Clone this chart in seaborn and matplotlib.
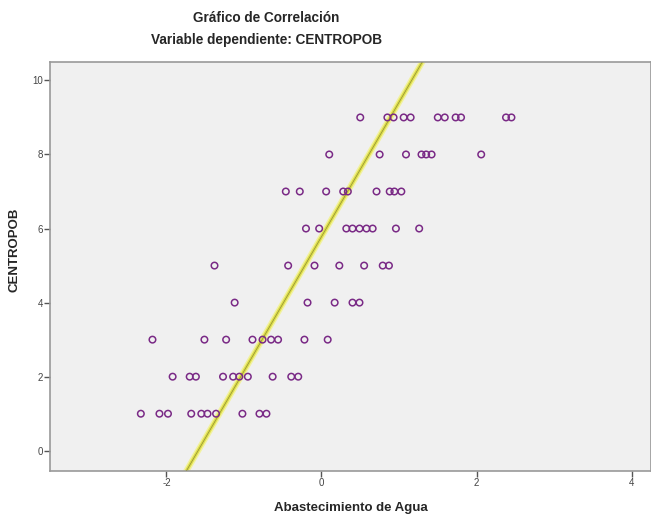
import numpy as np
import pandas as pd
import seaborn as sns
import matplotlib
matplotlib.use("Agg")
import matplotlib.pyplot as plt

# values, one list per CENTROPOB level
agua_9 = [0.50, 0.85, 0.93, 1.06, 1.15, 1.50, 1.59, 1.73, 1.80, 2.38, 2.45]
agua_8 = [0.10, 0.75, 1.09, 1.29, 1.35, 1.42, 2.06]
agua_7 = [-0.46, -0.28, 0.06, 0.28, 0.34, 0.71, 0.88, 0.94, 1.03]
agua_6 = [-0.20, -0.03, 0.32, 0.40, 0.49, 0.58, 0.66, 0.96, 1.26]
agua_5 = [-1.38, -0.43, -0.09, 0.23, 0.55, 0.79, 0.87]
agua_4 = [-1.12, -0.18, 0.17, 0.40, 0.49]
agua_3 = [-2.18, -1.51, -1.23, -0.89, -0.76, -0.65, -0.56, -0.22, 0.08]
agua_2 = [-1.92, -1.70, -1.62, -1.27, -1.14, -1.06, -0.95, -0.63, -0.39, -0.30]
agua_1 = [-2.33, -2.09, -1.98, -1.68, -1.55, -1.47, -1.36, -1.02, -0.80, -0.71]

levels = [9, 8, 7, 6, 5, 4, 3, 2, 1]
agua_rows = [agua_9, agua_8, agua_7, agua_6, agua_5, agua_4, agua_3, agua_2, agua_1]

# fit line as shown in the reference
fit_intercept = 5.78
fit_slope = 3.63

x_ticks = [-2, 0, 2, 4]
y_ticks = [0, 2, 4, 6, 8, 10]

rows = []
for lvl, xs in zip(levels, agua_rows):
    for v in xs:
        rows.append({"Abastecimiento de Agua": v, "CENTROPOB": lvl})
df = pd.DataFrame(rows)

sns.set_style("white")
plt.rcParams["font.family"] = ["Liberation Sans", "DejaVu Sans"]
plt.rcParams["axes.unicode_minus"] = False

fig = plt.figure(figsize=(6.51, 5.20), dpi=100)
ax = fig.add_axes([0.077, 0.094, 0.923, 0.787])
ax.set_facecolor("#f0f0f0")

xs_line = np.array([-3.6, 4.3])
line_df = pd.DataFrame({"x": xs_line, "y": fit_intercept + fit_slope * xs_line})
sns.lineplot(data=line_df, x="x", y="y", ax=ax, color="#f2f2a0", linewidth=4.5, zorder=2)
sns.lineplot(data=line_df, x="x", y="y", ax=ax, color="#dede48", linewidth=2.4, zorder=2)
sns.lineplot(data=line_df, x="x", y="y", ax=ax, color="#8c8c3c", linewidth=0.5, zorder=3)

sns.scatterplot(data=df, x="Abastecimiento de Agua", y="CENTROPOB", ax=ax,
                marker="o", s=22, facecolors="none", edgecolor="#7a2a86",
                linewidth=1.1, zorder=4)

ax.set_xlim(-3.5, 4.25)
ax.set_ylim(-0.55, 10.5)
ax.set_xticks(x_ticks)
ax.set_yticks(y_ticks)
ax.tick_params(axis="both", direction="out", length=4, width=1, color="#555555",
               labelsize=7, labelcolor="#444444", pad=1)
ax.tick_params(axis="x", bottom=True)
ax.tick_params(axis="y", left=True)

for side in ["top", "bottom", "left", "right"]:
    ax.spines[side].set_color("#999999")
    ax.spines[side].set_linewidth(1.2)

ax.set_xlabel("Abastecimiento de Agua", fontsize=9.5, fontweight="bold", labelpad=10)
ax.set_ylabel("CENTROPOB", fontsize=9.5, fontweight="bold")
ax.yaxis.set_label_coords(-0.05, 0.54)

fig.text(0.409, 0.965, "Gráfico de Correlación", ha="center", va="center",
         fontsize=9.8, fontweight="bold")
fig.text(0.409, 0.923, "Variable dependiente: CENTROPOB", ha="center", va="center",
         fontsize=9.8, fontweight="bold")

fig.savefig("out.png", dpi=100)
